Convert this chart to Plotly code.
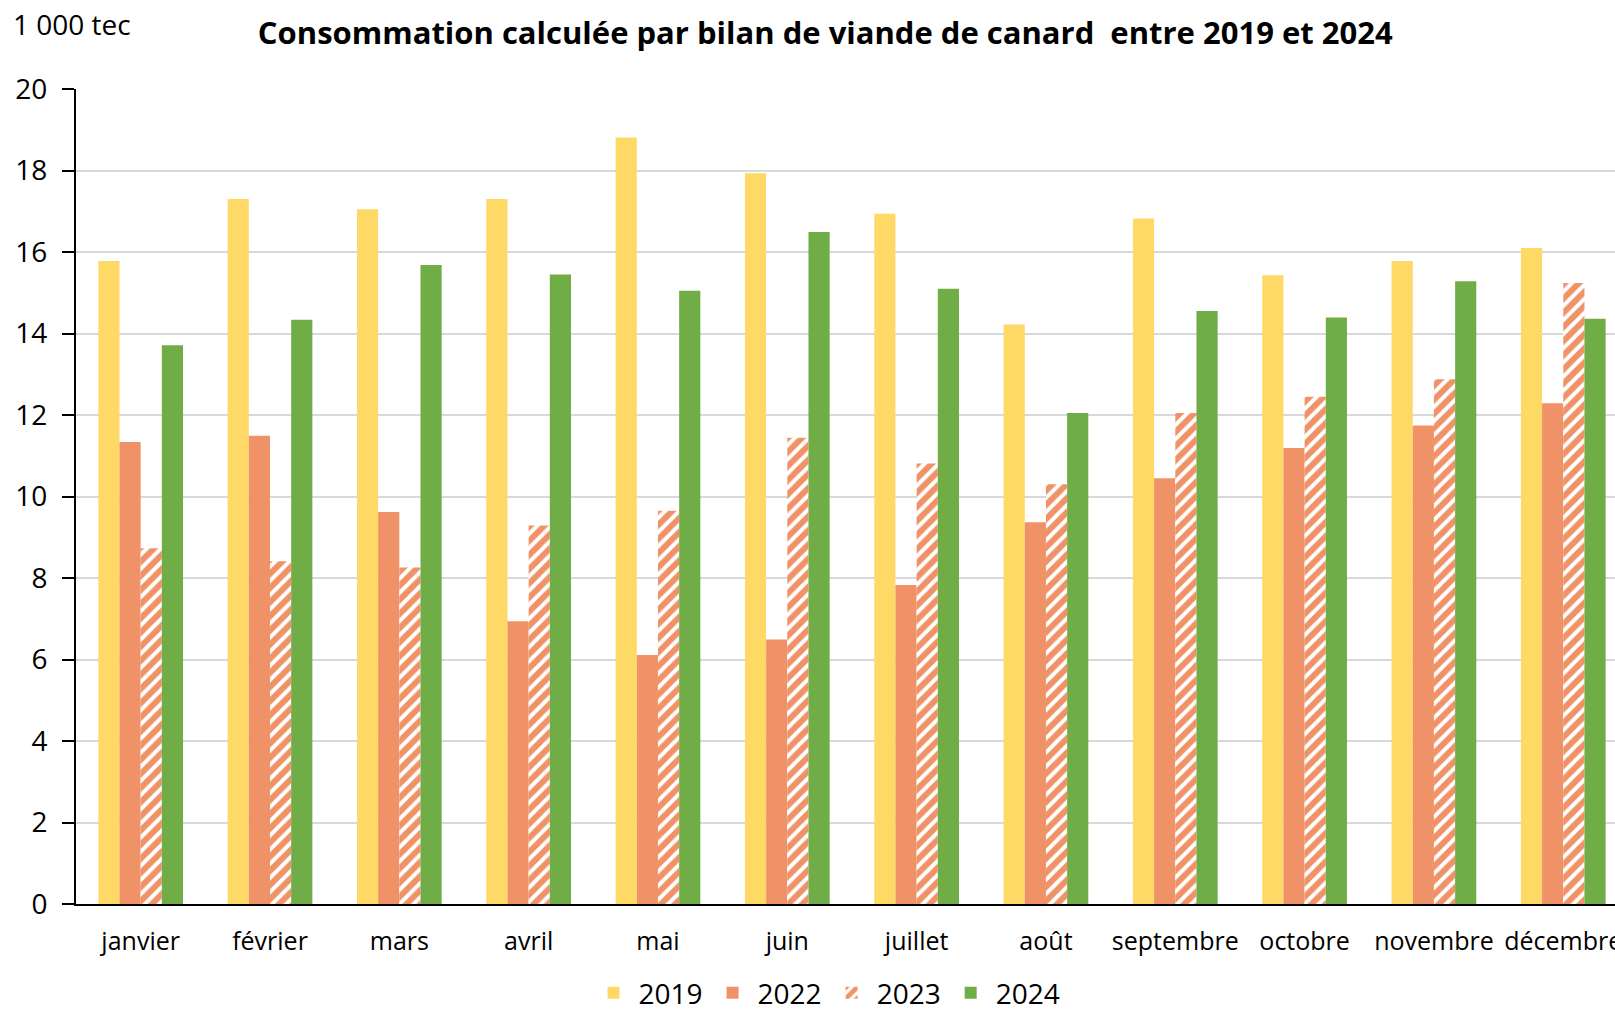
import plotly.graph_objects as go

months = ["janvier", "février", "mars", "avril", "mai", "juin", "juillet",
          "août", "septembre", "octobre", "novembre", "décembre"]
v2019 = [15.78, 17.30, 17.05, 17.30, 18.81, 17.93, 16.94, 14.22, 16.82, 15.43, 15.78, 16.10]
v2022 = [11.34, 11.49, 9.62, 6.94, 6.11, 6.49, 7.83, 9.37, 10.45, 11.19, 11.74, 12.29]
v2023 = [8.73, 8.41, 8.26, 9.29, 9.65, 11.44, 10.81, 10.30, 12.05, 12.45, 12.88, 15.24]
v2024 = [13.71, 14.34, 15.68, 15.45, 15.05, 16.49, 15.10, 12.05, 14.55, 14.39, 15.28, 14.36]

YELLOW = "#FED966"
SALMON = "#F09267"
GREEN = "#70AD47"
FONT = "Open Sans"

fig = go.Figure()
fig.add_trace(go.Bar(name="2019", x=months, y=v2019, marker=dict(color=YELLOW, line=dict(width=0))))
fig.add_trace(go.Bar(name="2022", x=months, y=v2022, marker=dict(color=SALMON, line=dict(width=0))))
fig.add_trace(go.Bar(name="2023", x=months, y=v2023,
                     marker=dict(color="white", line=dict(width=0),
                                 pattern=dict(shape="/", fgcolor=SALMON, bgcolor="white",
                                              size=10, solidity=0.6, fillmode="replace"))))
fig.add_trace(go.Bar(name="2024", x=months, y=v2024, marker=dict(color=GREEN, line=dict(width=0))))

fig.update_layout(
    width=1615, height=1015,
    margin=dict(l=75.5, r=0, t=88.6, b=110.7, autoexpand=False),
    paper_bgcolor="white", plot_bgcolor="white",
    barmode="group", bargap=0.345, bargroupgap=0,
    font=dict(family=FONT, color="black", size=25),
    title=dict(text="<b>Consommation calculée par bilan de viande de canard  entre 2019 et 2024</b>",
               x=0.511, xref="container", xanchor="center",
               y=1 - 33 / 1015, yref="container", yanchor="middle",
               font=dict(family=FONT, size=31, color="black")),
    showlegend=True,
    legend=dict(orientation="h", x=0.488, xanchor="center", y=-0.140, yanchor="bottom",
                font=dict(family=FONT, size=28, color="black"),
                itemsizing="constant", traceorder="normal", itemwidth=40,
                bgcolor="rgba(0,0,0,0)"),
    yaxis=dict(range=[0, 20], dtick=2, showgrid=True, gridcolor="#D9D9D9", gridwidth=1.5,
               showline=True, linecolor="black", linewidth=2,
               ticks="outside", ticklen=12, tickcolor="black", tickwidth=2,
               ticklabelstandoff=9,
               tickfont=dict(size=28), zeroline=False, automargin=False, fixedrange=True),
    xaxis=dict(type="category", range=[-0.5, 11.40], showline=True, linecolor="black", linewidth=2,
               ticks="", tickfont=dict(size=25), ticklabelstandoff=14,
               showgrid=False, automargin=False, fixedrange=True),
    annotations=[dict(text="1 000 tec", xref="paper", yref="paper", x=-0.042, y=1.080,
                      xanchor="left", yanchor="middle", showarrow=False,
                      font=dict(family=FONT, size=28, color="black"))],
)

fig.write_html("out.html", config=dict(displayModeBar=False),
               post_script="document.body.style.margin='0';document.body.style.overflow='hidden';")
